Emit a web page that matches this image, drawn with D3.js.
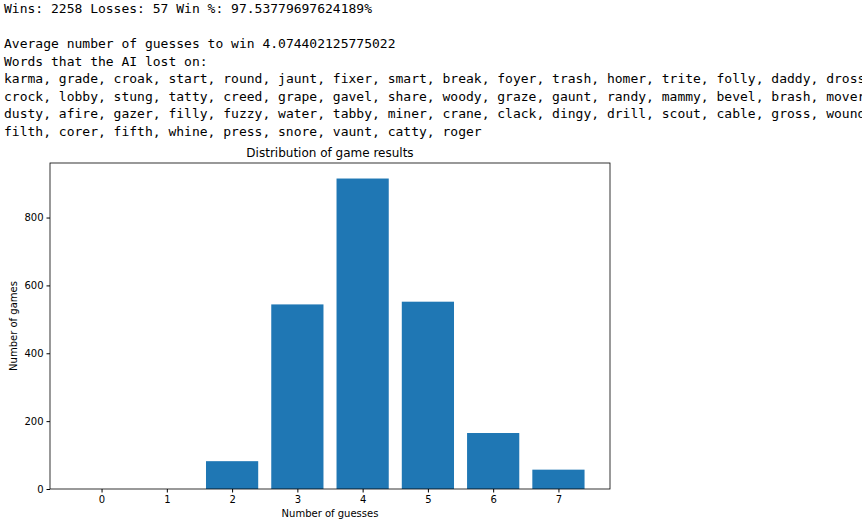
<!DOCTYPE html>
<html><head><meta charset="utf-8">
<script src="https://cdn.jsdelivr.net/npm/d3@7"></script>
<style>body{margin:0;background:#fff}text{font-family:"DejaVu Sans",sans-serif}</style>
</head><body><svg id="c" width="862" height="531"></svg>
<script>
const textLines = [
 "Wins: 2258 Losses: 57 Win %: 97.53779697624189%",
 "",
 "Average number of guesses to win 4.074402125775022",
 "Words that the AI lost on:",
 "karma, grade, croak, start, round, jaunt, fixer, smart, break, foyer, trash, homer, trite, folly, daddy, dross",
 "crock, lobby, stung, tatty, creed, grape, gavel, share, woody, graze, gaunt, randy, mammy, bevel, brash, mover",
 "dusty, afire, gazer, filly, fuzzy, water, tabby, miner, crane, clack, dingy, drill, scout, cable, gross, wound",
 "filth, corer, fifth, whine, press, snore, vaunt, catty, roger"
];
const guesses = [0,1,2,3,4,5,6,7];
const games = [0,0,82,544,915,552,165,57];
const yTicks = [0,200,400,600,800];

const svg = d3.select("#c");
svg.selectAll("text.out").data(textLines).join("text").attr("class","out")
  .attr("x",4).attr("y",(d,i)=>13+i*17.5)
  .style("font-family","'DejaVu Sans Mono',monospace").style("font-size","12.6px")
  .attr("fill","#000").style("white-space","pre")
  .attr("textLength",d=>d.length?d.length*7.83:null).attr("lengthAdjust","spacingAndGlyphs")
  .text(d=>d);

const L=50,R=610,T=163,B=489;
const x=d3.scaleLinear().domain([-0.79,7.79]).range([L,R]);
const y=d3.scaleLinear().domain([0,915*1.05]).range([B,T]);
svg.selectAll("rect.bar").data(guesses).join("rect").attr("class","bar")
  .attr("x",d=>x(d-0.4)).attr("width",d=>x(d+0.4)-x(d-0.4))
  .attr("y",(d,i)=>y(games[i])).attr("height",(d,i)=>B-y(games[i]))
  .attr("fill","#1f77b4");
const gx=svg.append("g").attr("transform",`translate(0,${B})`)
  .call(d3.axisBottom(x).tickValues(guesses).tickSize(3.5).tickPadding(3).tickFormat(d3.format("d")));
const gy=svg.append("g").attr("transform",`translate(${L},0)`)
  .call(d3.axisLeft(y).tickValues(yTicks).tickSize(3.5).tickPadding(3).tickFormat(d3.format("d")));
[gx,gy].forEach(g=>{g.select(".domain").remove();g.selectAll("text").style("font-size","10px").attr("fill","#000");});
svg.append("rect").attr("x",L).attr("y",T).attr("width",R-L).attr("height",B-T)
  .attr("fill","none").attr("stroke","#000").attr("stroke-width",0.8);
svg.append("text").attr("x",(L+R)/2).attr("y",157).attr("text-anchor","middle").style("font-size","12px").text("Distribution of game results");
svg.append("text").attr("x",(L+R)/2).attr("y",517).attr("text-anchor","middle").style("font-size","10px").text("Number of guesses");
svg.append("text").attr("transform",`translate(17,${(T+B)/2}) rotate(-90)`).attr("text-anchor","middle").style("font-size","10px").text("Number of games");
</script></body></html>
